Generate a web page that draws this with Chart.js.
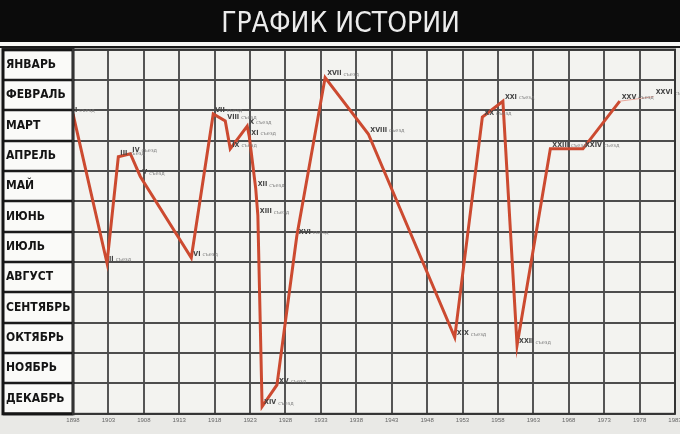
<!DOCTYPE html>
<html>
<head>
<meta charset="utf-8">
<script src="https://cdn.jsdelivr.net/npm/chart.js@4.4.1/dist/chart.umd.min.js"></script>
<style>
  html, body { margin: 0; padding: 0; background: #e9e9e6; }
  #wrap { width: 680px; height: 434px; position: relative; }
</style>
</head>
<body>
<div id="wrap"><canvas id="chart"></canvas></div>
<script>
// rows of the board (top to bottom)
const months = ['ЯНВАРЬ', 'ФЕВРАЛЬ', 'МАРТ', 'АПРЕЛЬ', 'МАЙ', 'ИЮНЬ',
  'ИЮЛЬ', 'АВГУСТ', 'СЕНТЯБРЬ', 'ОКТЯБРЬ', 'НОЯБРЬ', 'ДЕКАБРЬ'];

// columns of the board, 5 years each
const yearTicks = [1898, 1903, 1908, 1913, 1918, 1923, 1928, 1933, 1938,
  1943, 1948, 1953, 1958, 1963, 1968, 1973, 1978, 1983];

// congresses: number, year position, month position (0 = start of January)
const congressNumbers = ['I', 'II', 'III', 'IV', 'V', 'VI', 'VII', 'VIII', 'IX', 'X',
  'XI', 'XII', 'XIII', 'XIV', 'XV', 'XVI', 'XVII', 'XVIII', 'XIX', 'XX',
  'XXI', 'XXII', 'XXIII', 'XXIV', 'XXV'];
const congressYears = [1898.0, 1902.8, 1904.4, 1906.1, 1907.5, 1914.7, 1917.8, 1919.5,
  1920.2, 1922.6, 1922.9, 1923.8, 1924.1, 1924.7, 1926.8, 1929.6, 1933.6, 1939.7,
  1951.9, 1955.8, 1958.7, 1960.7, 1965.4, 1970.0, 1975.2];
const congressMonths = [2.12, 7.03, 3.53, 3.43, 4.18, 6.86, 2.12, 2.35, 3.27, 2.52,
  2.88, 4.58, 5.46, 11.76, 11.05, 6.14, 0.92, 2.78, 9.48, 2.22,
  1.70, 9.74, 3.27, 3.27, 1.70];

// the next (XXVI) congress, linked with a thin line
const nextNumber = 'XXVI';
const nextYear = 1980.0;
const nextMonth = 1.55;

const mainPoints = congressYears.map((yr, i) => ({ x: yr, y: congressMonths[i] }));
const lastIdx = congressYears.length - 1;
const nextPoints = [
  { x: congressYears[lastIdx], y: congressMonths[lastIdx] },
  { x: nextYear, y: nextMonth }
];

const condensed = "'DejaVu Sans Condensed', 'Liberation Sans Narrow', sans-serif";

// paper, black title band and board frame
const boardPlugin = {
  id: 'board',
  beforeDraw(chart) {
    const { ctx, chartArea: a, width } = chart;
    ctx.save();
    ctx.fillStyle = '#e9e9e6';
    ctx.fillRect(0, 0, width, chart.height);
    ctx.fillStyle = '#0b0b0b';
    ctx.fillRect(0, 0, width, 42);
    ctx.fillStyle = '#f7f7f5';
    ctx.fillRect(0, 42, width, 4);
    ctx.fillStyle = '#1a1a1a';
    ctx.fillRect(0, 46, width, 2);
    // label column
    ctx.fillStyle = '#fafaf8';
    ctx.fillRect(3, a.top, a.left - 3, a.bottom - a.top);
    // grid paper
    ctx.fillStyle = '#f3f3f0';
    ctx.fillRect(a.left, a.top, a.right - a.left, a.bottom - a.top);
    ctx.restore();
  },
  afterDraw(chart) {
    const { ctx, chartArea: a } = chart;
    ctx.save();
    ctx.strokeStyle = '#151515';
    ctx.lineWidth = 3;
    ctx.strokeRect(3, a.top, a.left - 3, a.bottom - a.top);
    ctx.lineWidth = 2;
    ctx.strokeStyle = '#333';
    ctx.strokeRect(a.left, a.top, a.right - a.left, a.bottom - a.top);
    ctx.restore();
  }
};

// small "N съезд" notes next to every point
const notesPlugin = {
  id: 'notes',
  afterDatasetsDraw(chart) {
    const { ctx } = chart;
    ctx.save();
    ctx.textBaseline = 'middle';
    ctx.textAlign = 'left';
    const note = (pt, num) => {
      ctx.fillStyle = '#444';
      ctx.font = "bold 7px 'DejaVu Sans Condensed', sans-serif";
      ctx.fillText(num, pt.x + 2, pt.y - 4);
      const w = ctx.measureText(num).width;
      ctx.font = "5px 'DejaVu Sans', sans-serif";
      ctx.fillStyle = '#777';
      ctx.fillText('съезд', pt.x + 4 + w, pt.y - 3);
    };
    chart.getDatasetMeta(0).data.forEach((pt, i) => note(pt, congressNumbers[i]));
    const extra = chart.getDatasetMeta(1).data[1];
    if (extra) note(extra, nextNumber);
    ctx.restore();
  }
};

new Chart(document.getElementById('chart'), {
  type: 'line',
  data: {
    datasets: [{
      label: 'Съезды',
      data: mainPoints,
      borderColor: '#cc4a30',
      borderWidth: 3,
      pointRadius: 0,
      tension: 0,
      yAxisID: 'y'
    }, {
      label: 'Следующий съезд',
      data: nextPoints,
      borderColor: '#e8a89c',
      borderWidth: 1,
      pointRadius: 0,
      tension: 0,
      yAxisID: 'y'
    }]
  },
  options: {
    responsive: true,
    maintainAspectRatio: false,
    animation: false,
    layout: { padding: { top: 4, left: 6, right: 5, bottom: 7 } },
    plugins: {
      legend: { display: false },
      tooltip: { enabled: false },
      title: {
        display: true,
        text: 'ГРАФИК ИСТОРИИ',
        color: '#ececec',
        font: { family: condensed, size: 28, weight: 'normal' },
        padding: { top: 4, bottom: 8 }
      }
    },
    scales: {
      x: {
        type: 'linear',
        min: 1898,
        max: 1983,
        afterBuildTicks: (scale) => { scale.ticks = yearTicks.map(v => ({ value: v })); },
        afterFit: (scale) => { scale.paddingLeft = 0; scale.paddingRight = 0; },
        grid: { color: '#555', lineWidth: 2, drawTicks: false },
        border: { display: false },
        ticks: {
          color: '#666',
          padding: 3,
          maxRotation: 0,
          autoSkip: false,
          font: { size: 6 },
          callback: (v) => String(v)
        }
      },
      y: {
        type: 'linear',
        display: false,
        min: 0,
        max: 12,
        reverse: true
      },
      yMonths: {
        type: 'category',
        position: 'left',
        labels: months,
        offset: true,
        afterFit: (scale) => { scale.width = 67; },
        grid: {
          offset: true,
          color: '#4d4d4d',
          lineWidth: 2,
          tickLength: 70,
          tickColor: '#1a1a1a',
          tickWidth: 2.5
        },
        border: { display: false },
        ticks: {
          crossAlign: 'far',
          color: '#141414',
          padding: 0,
          font: { family: condensed, size: 12, weight: 'bold' }
        }
      }
    }
  },
  plugins: [boardPlugin, notesPlugin]
});
</script>
</body>
</html>
